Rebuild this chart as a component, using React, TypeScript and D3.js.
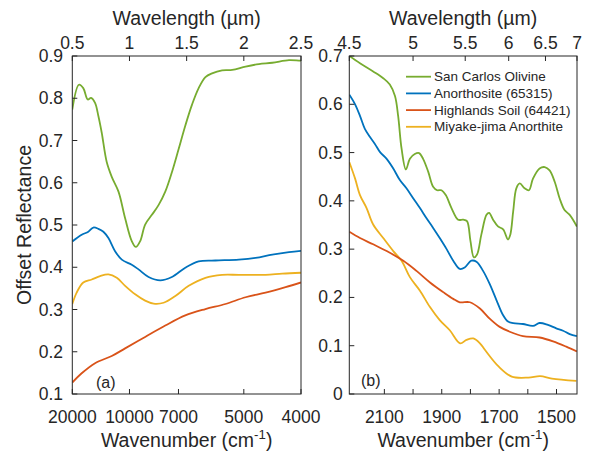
import React from "react";
import * as d3 from "d3";

// ---------- Panel (a): VNIR, x in wavelength (µm) ----------
const olivineAWl = [0.5, 0.558, 0.596, 0.635, 0.664, 0.699, 0.728, 0.757, 0.801, 0.845, 0.904, 0.962, 1.02, 1.056, 1.094, 1.137, 1.196, 1.254, 1.313, 1.371, 1.43, 1.488, 1.547, 1.605, 1.664, 1.722, 1.81, 1.898, 2.015, 2.132, 2.249, 2.395, 2.482, 2.5];
const olivineAR = [0.773, 0.832, 0.824, 0.797, 0.801, 0.789, 0.758, 0.719, 0.649, 0.614, 0.579, 0.516, 0.462, 0.448, 0.462, 0.501, 0.524, 0.547, 0.579, 0.625, 0.68, 0.735, 0.785, 0.824, 0.85, 0.859, 0.866, 0.867, 0.875, 0.881, 0.884, 0.89, 0.889, 0.889];

const anorthositeAWl = [0.5, 0.582, 0.64, 0.684, 0.728, 0.772, 0.816, 0.874, 0.933, 1.02, 1.079, 1.167, 1.269, 1.371, 1.488, 1.605, 1.751, 1.956, 2.102, 2.249, 2.395, 2.5];
const anorthositeAR = [0.461, 0.477, 0.484, 0.494, 0.491, 0.484, 0.469, 0.438, 0.418, 0.406, 0.395, 0.377, 0.369, 0.377, 0.399, 0.414, 0.416, 0.418, 0.422, 0.43, 0.436, 0.439];

const soilAWl = [0.5, 0.582, 0.699, 0.845, 0.962, 1.137, 1.313, 1.488, 1.664, 1.839, 2.015, 2.19, 2.365, 2.5];
const soilAR = [0.127, 0.149, 0.173, 0.19, 0.208, 0.235, 0.262, 0.286, 0.301, 0.313, 0.329, 0.34, 0.353, 0.364];

const anorthiteAWl = [0.5, 0.538, 0.596, 0.67, 0.743, 0.816, 0.889, 0.962, 1.05, 1.137, 1.211, 1.298, 1.401, 1.518, 1.664, 1.81, 1.956, 2.19, 2.336, 2.5];
const anorthiteAR = [0.313, 0.34, 0.364, 0.371, 0.379, 0.383, 0.375, 0.356, 0.336, 0.321, 0.314, 0.316, 0.332, 0.356, 0.375, 0.382, 0.382, 0.382, 0.385, 0.387];

// ---------- Panel (b): MIR, x in wavenumber (cm-1) ----------
const olivineBWn = [2222, 2185, 2139, 2104, 2081, 2063, 2052, 2040, 2025, 2011, 1994, 1979, 1965, 1947, 1930, 1916, 1901, 1886, 1866, 1843, 1825, 1812, 1800, 1788, 1777, 1762, 1744, 1735, 1721, 1704, 1686, 1669, 1661, 1651, 1640, 1628, 1611, 1596, 1582, 1559, 1541, 1524, 1506, 1489, 1472, 1454, 1429];
const olivineBR = [0.7, 0.685, 0.668, 0.654, 0.641, 0.617, 0.576, 0.508, 0.465, 0.487, 0.497, 0.499, 0.487, 0.46, 0.429, 0.422, 0.422, 0.412, 0.385, 0.361, 0.361, 0.358, 0.317, 0.283, 0.289, 0.33, 0.371, 0.375, 0.361, 0.347, 0.341, 0.32, 0.33, 0.378, 0.426, 0.436, 0.426, 0.422, 0.446, 0.467, 0.47, 0.463, 0.439, 0.405, 0.381, 0.371, 0.347];

const anorthositeBWn = [2222, 2202, 2185, 2168, 2150, 2133, 2115, 2092, 2069, 2046, 2023, 1999, 1976, 1953, 1930, 1907, 1883, 1860, 1837, 1820, 1797, 1779, 1756, 1733, 1709, 1686, 1669, 1651, 1617, 1582, 1559, 1530, 1501, 1477, 1454, 1429];
const anorthositeBR = [0.62, 0.6, 0.576, 0.549, 0.532, 0.518, 0.501, 0.487, 0.467, 0.443, 0.426, 0.405, 0.385, 0.364, 0.344, 0.323, 0.3, 0.276, 0.259, 0.262, 0.276, 0.274, 0.255, 0.228, 0.194, 0.163, 0.15, 0.147, 0.145, 0.141, 0.147, 0.143, 0.136, 0.131, 0.124, 0.12];

const soilBWn = [2222, 2185, 2139, 2092, 2034, 1988, 1941, 1895, 1860, 1837, 1802, 1767, 1733, 1698, 1663, 1617, 1559, 1512, 1466, 1429];
const soilBR = [0.336, 0.323, 0.31, 0.296, 0.276, 0.255, 0.231, 0.211, 0.197, 0.19, 0.19, 0.177, 0.156, 0.139, 0.129, 0.12, 0.117, 0.109, 0.098, 0.088];

const anorthiteBWn = [2222, 2202, 2185, 2162, 2139, 2104, 2069, 2040, 2011, 1976, 1941, 1907, 1872, 1836, 1814, 1790, 1767, 1749, 1702, 1656, 1598, 1557, 1516, 1431];
const anorthiteBR = [0.48, 0.446, 0.412, 0.385, 0.351, 0.323, 0.296, 0.276, 0.242, 0.214, 0.18, 0.153, 0.132, 0.105, 0.112, 0.115, 0.105, 0.091, 0.057, 0.036, 0.034, 0.037, 0.032, 0.027];

const seriesNames = ["San Carlos Olivine", "Anorthosite (65315)", "Highlands Soil (64421)", "Miyake-jima Anorthite"];
const seriesColors = ["#77AC30", "#0072BD", "#D95319", "#EDB120"];

const aTopTicks = [0.5, 1, 1.5, 2, 2.5];
const aTopLabels = ["0.5", "1", "1.5", "2", "2.5"];
const aBottomTicks = [20000, 10000, 7000, 5000, 4000];
const aYTicks = [0.1, 0.2, 0.3, 0.4, 0.5, 0.6, 0.7, 0.8, 0.9];

const bTopTicks = [4.5, 5, 5.5, 6, 6.5, 7];
const bTopLabels = ["4.5", "5", "5.5", "6", "6.5", "7"];
const bBottomTicks = [2100, 2000, 1900, 1800, 1700, 1600, 1500];
const bBottomLabels = [2100, 1900, 1700, 1500];
const bYTicks = [0, 0.1, 0.2, 0.3, 0.4, 0.5, 0.6, 0.7];

const W = 589;
const H = 452;
const TOP = 56;
const BOTTOM = 394;
const FONT = "'Liberation Sans', Arial, Helvetica, sans-serif";
const TXT = "#262626";
const TICK_FS = 17.5;
const LABEL_FS = 19.5;
const TL = 5;

function Series({ xs, ys, xScale, yScale, color }: any) {
  const pts: [number, number][] = xs.map((x: number, i: number) => [x, ys[i]]);
  const line = d3
    .line<[number, number]>()
    .x((d) => xScale(d[0]))
    .y((d) => yScale(d[1]))
    .curve(d3.curveCatmullRom.alpha(0.5));
  return <path d={line(pts) || ""} fill="none" stroke={color} strokeWidth={1.8} strokeLinejoin="round" />;
}

export default function App() {
  // panel a scales
  const ax0 = 72.3, ax1 = 301;
  const xa = d3.scaleLinear().domain([0.5, 2.5]).range([ax0, ax1]);
  const xaWn = (wn: number) => xa(1e4 / wn);
  const ya = d3.scaleLinear().domain([0.1, 0.9]).range([BOTTOM, TOP]);

  // panel b scales
  const bx0 = 349.3, bx1 = 577;
  const xb = d3.scaleLinear().domain([1e4 / 4.5, 1e4 / 7]).range([bx0, bx1]);
  const xbWl = (wl: number) => xb(1e4 / wl);
  const yb = d3.scaleLinear().domain([0, 0.7]).range([BOTTOM, TOP]);

  const aSeries = [
    [anorthiteAWl, anorthiteAR, 3],
    [soilAWl, soilAR, 2],
    [anorthositeAWl, anorthositeAR, 1],
    [olivineAWl, olivineAR, 0],
  ] as any[];
  const bSeries = [
    [anorthiteBWn, anorthiteBR, 3],
    [soilBWn, soilBR, 2],
    [anorthositeBWn, anorthositeBR, 1],
    [olivineBWn, olivineBR, 0],
  ] as any[];

  const legendX = 406;
  const legendY0 = 76.7;
  const legendDy = 16.7;

  return (
    <svg width={W} height={H} style={{ display: "block", position: "absolute", left: 0, top: 0 }} fontFamily={FONT}>
      <rect x={0} y={0} width={W} height={H} fill="#fff" />
      <defs>
        <clipPath id="clipA">
          <rect x={ax0} y={TOP} width={ax1 - ax0} height={BOTTOM - TOP} />
        </clipPath>
        <clipPath id="clipB">
          <rect x={bx0} y={TOP} width={bx1 - bx0} height={BOTTOM - TOP} />
        </clipPath>
      </defs>

      {/* Panel a curves */}
      <g clipPath="url(#clipA)">
        {aSeries.map(([xs, ys, ci]) => (
          <Series key={"a" + ci} xs={xs} ys={ys} xScale={xa} yScale={ya} color={seriesColors[ci]} />
        ))}
      </g>
      {/* Panel b curves */}
      <g clipPath="url(#clipB)">
        {bSeries.map(([xs, ys, ci]) => (
          <Series key={"b" + ci} xs={xs} ys={ys} xScale={xb} yScale={yb} color={seriesColors[ci]} />
        ))}
      </g>

      {/* Panel a axes */}
      <g stroke={TXT} strokeWidth={1} fill="none">
        <rect x={ax0} y={TOP} width={ax1 - ax0} height={BOTTOM - TOP} />
        {aTopTicks.map((t) => (
          <line key={"at" + t} x1={xa(t)} x2={xa(t)} y1={TOP} y2={TOP + TL} />
        ))}
        {aBottomTicks.map((t) => (
          <line key={"ab" + t} x1={xaWn(t)} x2={xaWn(t)} y1={BOTTOM} y2={BOTTOM - TL} />
        ))}
        {aYTicks.map((t) => (
          <line key={"ay" + t} x1={ax0} x2={ax0 + TL} y1={ya(t)} y2={ya(t)} />
        ))}
      </g>
      <g fill={TXT} fontSize={TICK_FS}>
        {aTopTicks.map((t, i) => (
          <text key={"atl" + t} x={xa(t)} y={49} textAnchor="middle">{aTopLabels[i]}</text>
        ))}
        {aBottomTicks.map((t) => (
          <text key={"abl" + t} x={xaWn(t)} y={423} textAnchor="middle">{t}</text>
        ))}
        {aYTicks.map((t) => (
          <text key={"ayl" + t} x={63} y={ya(t)} textAnchor="end" dominantBaseline="central">{d3.format(".1f")(t)}</text>
        ))}
        <text x={96} y={388} fontSize={16}>(a)</text>
      </g>

      {/* Panel b axes */}
      <g stroke={TXT} strokeWidth={1} fill="none">
        <rect x={bx0} y={TOP} width={bx1 - bx0} height={BOTTOM - TOP} />
        {bTopTicks.map((t) => (
          <line key={"bt" + t} x1={xbWl(t)} x2={xbWl(t)} y1={TOP} y2={TOP + TL} />
        ))}
        {bBottomTicks.map((t) => (
          <line key={"bb" + t} x1={xb(t)} x2={xb(t)} y1={BOTTOM} y2={BOTTOM - TL} />
        ))}
        {bYTicks.map((t) => (
          <line key={"by" + t} x1={bx0} x2={bx0 + TL} y1={yb(t)} y2={yb(t)} />
        ))}
      </g>
      <g fill={TXT} fontSize={TICK_FS}>
        {bTopTicks.map((t, i) => (
          <text key={"btl" + t} x={xbWl(t)} y={49} textAnchor="middle">{bTopLabels[i]}</text>
        ))}
        {bBottomLabels.map((t) => (
          <text key={"bbl" + t} x={xb(t)} y={423} textAnchor="middle">{t}</text>
        ))}
        {bYTicks.map((t) => (
          <text key={"byl" + t} x={342.7} y={yb(t)} textAnchor="end" dominantBaseline="central">{t === 0 ? "0" : d3.format(".1f")(t)}</text>
        ))}
        <text x={361} y={386} fontSize={16}>(b)</text>
      </g>

      {/* Legend */}
      <g fontSize={13.5} fill={TXT}>
        {seriesNames.map((n, i) => (
          <g key={n}>
            <line x1={legendX} x2={legendX + 25} y1={legendY0 + i * legendDy} y2={legendY0 + i * legendDy} stroke={seriesColors[i]} strokeWidth={1.8} />
            <text x={legendX + 28} y={legendY0 + i * legendDy} dominantBaseline="central">{n}</text>
          </g>
        ))}
      </g>

      {/* Axis titles */}
      <g fill={TXT} fontSize={LABEL_FS} textAnchor="middle">
        <text x={(ax0 + ax1) / 2} y={25}>Wavelength (µm)</text>
        <text x={(bx0 + bx1) / 2} y={25}>Wavelength (µm)</text>
        <text x={(ax0 + ax1) / 2} y={447}>
          Wavenumber (cm<tspan fontSize={LABEL_FS * 0.68} dy={-8}>-1</tspan><tspan dy={8}>)</tspan>
        </text>
        <text x={(bx0 + bx1) / 2} y={447}>
          Wavenumber (cm<tspan fontSize={LABEL_FS * 0.68} dy={-8}>-1</tspan><tspan dy={8}>)</tspan>
        </text>
        <text transform={`translate(31, ${(TOP + BOTTOM) / 2}) rotate(-90)`}>Offset Reflectance</text>
      </g>
    </svg>
  );
}
